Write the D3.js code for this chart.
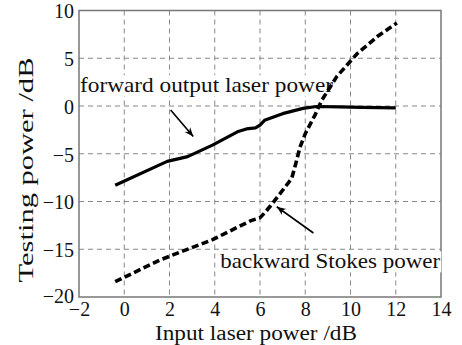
<!DOCTYPE html>
<html><head><meta charset="utf-8">
<script src="https://cdn.jsdelivr.net/npm/d3@7"></script>
<style>body{margin:0;background:#fff}svg{display:block}
svg text{font-family:"Liberation Serif","Times New Roman",Times,"DejaVu Serif",serif;fill:#111}</style>
</head><body>
<svg id="c" width="462" height="345"></svg>
<script>
const xTicks = [-2, 0, 2, 4, 6, 8, 10, 12, 14];
const yTicks = [-20, -15, -10, -5, 0, 5, 10];
const forwardX = [-0.4, 1.9, 2.8, 3.9, 5.0, 5.4, 5.8, 6.0, 6.2, 7.0, 7.9, 8.5, 9.5, 10.5, 12.0];
const forwardY = [-8.3, -5.8, -5.3, -4.1, -2.7, -2.4, -2.3, -2.0, -1.5, -0.8, -0.25, -0.05, -0.1, -0.15, -0.2];
const backwardX = [-0.4, 1.6, 3.9, 5.6, 6.0, 6.2, 6.45, 7.4, 7.55, 7.77, 8.0, 8.44, 8.73, 9.4, 10.3, 11.2, 12.05];
const backwardY = [-18.4, -16.1, -14.0, -12.0, -11.7, -11.2, -10.5, -7.6, -6.3, -4.3, -2.9, -0.9, 0.6, 3.1, 5.5, 7.3, 8.7];
const labels = ["forward output laser power", "backward Stokes power"];
const labelX = [-2, 4.2];
const labelY = [1.45, -17.0];
const arrowFrom = [[2.05, -0.42], [8.36, -13.3]];
const arrowTo = [[3.05, -3.2], [6.74, -10.55]];

const svg = d3.select("#c");
const L = 79, R = 441, T = 10.5, B = 297;
const x = d3.scaleLinear().domain([-2, 14]).range([L, R]);
const y = d3.scaleLinear().domain([-20, 10]).range([B, T]);
const fmt = d => d < 0 ? "\u2212" + Math.abs(d) : String(d);

svg.append("defs").append("marker").attr("id","ah").attr("viewBox","0 0 10 10")
  .attr("refX",10).attr("refY",5).attr("markerWidth",9).attr("markerHeight",9)
  .attr("markerUnits","userSpaceOnUse").attr("orient","auto")
  .append("path").attr("d","M0,1 L10,5 L0,9 L3,5 Z").attr("fill","#000");

// grid
const g = svg.append("g");
g.selectAll(".vg").data(xTicks.filter(d => d > -2 && d < 14)).join("line")
  .attr("x1", d => x(d)).attr("x2", d => x(d)).attr("y1", T).attr("y2", B)
  .attr("stroke", "#888").attr("stroke-width", 1).attr("stroke-dasharray", "5,4");
g.selectAll(".hg").data(yTicks.filter(d => d > -20 && d < 10)).join("line")
  .attr("y1", d => y(d)).attr("y2", d => y(d)).attr("x1", L).attr("x2", R)
  .attr("stroke", "#888").attr("stroke-width", 1).attr("stroke-dasharray", "5,4");

// axes via d3
const xa = svg.append("g").attr("transform", `translate(0,${B})`)
  .call(d3.axisBottom(x).tickValues(xTicks).tickSize(0).tickPadding(4).tickFormat(fmt));
const ya = svg.append("g").attr("transform", `translate(${L},0)`)
  .call(d3.axisLeft(y).tickValues(yTicks).tickSize(0).tickPadding(5).tickFormat(fmt));
[xa, ya].forEach(a => {
  a.select(".domain").remove();
  a.attr("font-family", null);
  a.selectAll("text").style("font-size", "20px");
});
xa.selectAll("text").attr("dy", "0.76em");
ya.selectAll("text").attr("dy", d => d === -20 ? "0.28em" : "0.37em");

// frame
svg.append("rect").attr("x", L).attr("y", T).attr("width", R - L).attr("height", B - T)
  .attr("fill", "none").attr("stroke", "#777").attr("stroke-width", 1.5);

// labels with white background
labels.forEach((t, i) => {
  const len = i === 0 ? 253 : 220;
  const bg = svg.append("rect").attr("fill", "#fff");
  const tx = svg.append("text").attr("x", x(labelX[i]) + 1).attr("y", y(labelY[i]))
    .style("font-size", "21px")
    .attr("textLength", len).attr("lengthAdjust", "spacingAndGlyphs").text(t);
  const bb = tx.node().getBBox();
  bg.attr("x", bb.x).attr("y", bb.y + 2).attr("width", bb.width + 1).attr("height", bb.height - 3);
});

// lines
const line = d3.line().x(d => x(d[0])).y(d => y(d[1]));
svg.append("path").datum(forwardX.map((v, i) => [v, forwardY[i]]))
  .attr("d", line).attr("fill", "none").attr("stroke", "#000").attr("stroke-width", 3.2)
  .attr("stroke-linejoin", "round");
svg.append("path").datum(backwardX.map((v, i) => [v, backwardY[i]]))
  .attr("d", line).attr("fill", "none").attr("stroke", "#000").attr("stroke-width", 3.6)
  .attr("stroke-dasharray", "7,3.5");

// arrows
arrowFrom.forEach((f, i) => {
  svg.append("line").attr("x1", x(f[0])).attr("y1", y(f[1]))
    .attr("x2", x(arrowTo[i][0])).attr("y2", y(arrowTo[i][1]))
    .attr("stroke", "#000").attr("stroke-width", 1.6).attr("marker-end", "url(#ah)");
});

// axis titles
svg.append("text").attr("x", 256).attr("y", 340).attr("text-anchor", "middle")
  .style("font-size", "20px")
  .attr("textLength", 202).attr("lengthAdjust", "spacingAndGlyphs").text("Input laser power /dB");
svg.append("text").attr("transform", "translate(33,170) rotate(-90)").attr("text-anchor", "middle")
  .style("font-size", "21px")
  .attr("textLength", 225).attr("lengthAdjust", "spacingAndGlyphs").text("Testing power /dB");
</script>
</body></html>
